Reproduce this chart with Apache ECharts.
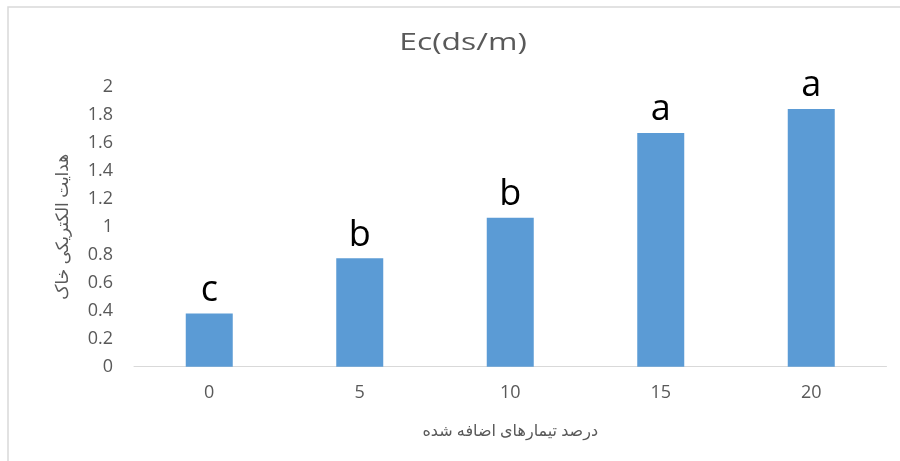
<!DOCTYPE html>
<html><head><meta charset="utf-8">
<script src="https://cdn.jsdelivr.net/npm/echarts@6/dist/echarts.min.js"></script>
<style>html,body{margin:0;padding:0;background:#fff}#c{width:900px;height:461px}</style>
</head><body><div id="c"></div>
<script>
const categories = ['0', '5', '10', '15', '20'];
const values = [0.38, 0.774, 1.064, 1.67, 1.84];
const letters = ['c', 'b', 'b', 'a', 'a'];
const yTicks = { min: 0, max: 2, interval: 0.2 };
const titleText = 'Ec(ds/m)';
const xName = 'درصد تیمارهای اضافه شده';
const yName = 'هدایت الکتریکی خاک';

const FONT = "'Open Sans', 'DejaVu Sans', sans-serif";
const chart = echarts.init(document.getElementById('c'), null, { renderer: 'canvas' });
chart.setOption({
  backgroundColor: '#fff',
  animation: false,
  graphic: [{
    type: 'rect', shape: { x: 8, y: 7, width: 1000, height: 1000 },
    style: { fill: 'none', stroke: '#D9D9D9', lineWidth: 1.5 }, silent: true
  }, {
    type: 'text', x: 463, y: 43, scaleX: 1.385, silent: true,
    style: {
      text: titleText, x: 0, y: 0, align: 'center', verticalAlign: 'middle',
      font: "23px 'Open Sans', sans-serif", fill: '#595959'
    }
  }],
  grid: { left: 134, right: 13.5, top: 86.7, bottom: 94.3, containLabel: false },
  xAxis: {
    type: 'category', data: categories,
    name: xName, nameLocation: 'middle', nameGap: 57, nameMoveOverlap: false,
    nameTextStyle: { fontFamily: FONT, fontSize: 16, color: '#595959' },
    axisLine: { lineStyle: { color: '#D9D9D9', width: 1 } },
    axisTick: { show: false },
    axisLabel: { fontFamily: FONT, fontSize: 18, color: '#595959', margin: 17 }
  },
  yAxis: {
    type: 'value', min: yTicks.min, max: yTicks.max, interval: yTicks.interval,
    name: yName, nameLocation: 'middle', nameGap: 62, nameMoveOverlap: false,
    nameTextStyle: { fontFamily: FONT, fontSize: 17, color: '#595959' },
    axisLine: { show: false }, axisTick: { show: false },
    splitLine: { show: false },
    axisLabel: { fontFamily: FONT, fontSize: 18, color: '#595959', margin: 21 }
  },
  series: [{
    type: 'bar', data: values, barWidth: 47,
    itemStyle: { color: '#5B9BD5' },
    label: {
      show: true, position: 'top', distance: 5,
      formatter: p => letters[p.dataIndex],
      fontFamily: FONT, fontSize: 36, color: '#000'
    }
  }]
});
</script></body></html>
